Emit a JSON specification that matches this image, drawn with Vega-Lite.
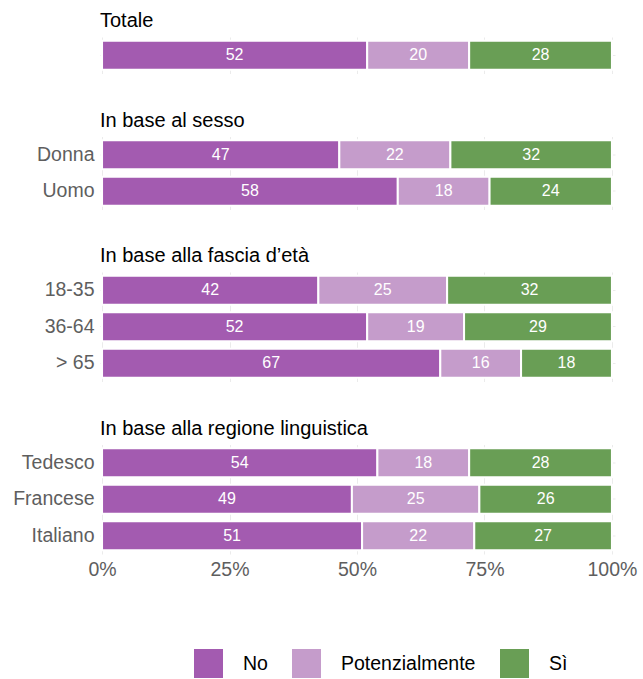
{
  "$schema": "https://vega.github.io/schema/vega-lite/v6.json",
  "padding": {"left": 12, "top": 11, "right": 5, "bottom": 5},
  "config": {
    "font": "Liberation Sans",
    "view": {"stroke": null},
    "title": {"fontSize": 20, "fontWeight": "normal", "anchor": "start", "frame": "group", "color": "#000000", "offset": 6, "font": "Liberation Sans"},
    "axis": {"labelFont": "Liberation Sans", "labelFontSize": 19.5, "labelColor": "#5e5e5e", "ticks": false, "domain": false, "gridColor": "#ebebeb", "title": null, "labelPadding": 6},
    "concat": {"spacing": 36.5},
    "legend": {"symbolType": "square", "symbolSize": 841, "labelFontSize": 19.5, "labelColor": "#000000", "labelFont": "Liberation Sans", "labelOffset": 20, "columnPadding": 24, "symbolStrokeWidth": 0}
  },
  "datasets": {
    "d": [
      {"g": "Totale", "cat": "Totale", "resp": "No", "v": 52},
      {"g": "Totale", "cat": "Totale", "resp": "Potenzialmente", "v": 20},
      {"g": "Totale", "cat": "Totale", "resp": "Sì", "v": 28},
      {"g": "Sesso", "cat": "Donna", "resp": "No", "v": 47},
      {"g": "Sesso", "cat": "Donna", "resp": "Potenzialmente", "v": 22},
      {"g": "Sesso", "cat": "Donna", "resp": "Sì", "v": 32},
      {"g": "Sesso", "cat": "Uomo", "resp": "No", "v": 58},
      {"g": "Sesso", "cat": "Uomo", "resp": "Potenzialmente", "v": 18},
      {"g": "Sesso", "cat": "Uomo", "resp": "Sì", "v": 24},
      {"g": "Eta", "cat": "18-35", "resp": "No", "v": 42},
      {"g": "Eta", "cat": "18-35", "resp": "Potenzialmente", "v": 25},
      {"g": "Eta", "cat": "18-35", "resp": "Sì", "v": 32},
      {"g": "Eta", "cat": "36-64", "resp": "No", "v": 52},
      {"g": "Eta", "cat": "36-64", "resp": "Potenzialmente", "v": 19},
      {"g": "Eta", "cat": "36-64", "resp": "Sì", "v": 29},
      {"g": "Eta", "cat": "> 65", "resp": "No", "v": 67},
      {"g": "Eta", "cat": "> 65", "resp": "Potenzialmente", "v": 16},
      {"g": "Eta", "cat": "> 65", "resp": "Sì", "v": 18},
      {"g": "Regione", "cat": "Tedesco", "resp": "No", "v": 54},
      {"g": "Regione", "cat": "Tedesco", "resp": "Potenzialmente", "v": 18},
      {"g": "Regione", "cat": "Tedesco", "resp": "Sì", "v": 28},
      {"g": "Regione", "cat": "Francese", "resp": "No", "v": 49},
      {"g": "Regione", "cat": "Francese", "resp": "Potenzialmente", "v": 25},
      {"g": "Regione", "cat": "Francese", "resp": "Sì", "v": 26},
      {"g": "Regione", "cat": "Italiano", "resp": "No", "v": 51},
      {"g": "Regione", "cat": "Italiano", "resp": "Potenzialmente", "v": 22},
      {"g": "Regione", "cat": "Italiano", "resp": "Sì", "v": 27}
    ]
  },
  "vconcat": [
    {
      "title": "Totale",
      "width": 515, "height": 36.5,
      "data": {"name": "d"},
      "transform": [
        {"filter": {"field": "g", "equal": "Totale"}},
        {"stack": "v", "groupby": ["cat"], "offset": "normalize", "sort": [{"field": "resp"}], "as": ["x0", "x1"]}
      ],
      "encoding": {
        "y": {"field": "cat", "type": "nominal", "sort": ["Totale"], "scale": {"paddingInner": 0.205, "paddingOuter": 0.1025}, "axis": {"labels": false, "grid": true}}
      },
      "layer": [
        {"mark": {"type": "bar", "stroke": "white", "strokeWidth": 2},
         "encoding": {
           "x": {"field": "x0", "type": "quantitative", "scale": {"domain": [-0.004, 1.006], "nice": false, "zero": false}, "axis": {"labels": false, "grid": true, "values": [0, 0.25, 0.5, 0.75, 1]}},
           "x2": {"field": "x1"},
           "color": {"field": "resp", "type": "nominal", "scale": {"domain": ["No", "Potenzialmente", "Sì"], "range": ["#a35bb0", "#c59ccb", "#699e55"]}, "legend": {"title": null, "orient": "none", "legendX": 94, "legendY": 612, "direction": "horizontal"}}
         }},
        {"transform": [{"fold": ["x0", "x1"], "as": ["k", "xv"]}],
         "mark": {"type": "text", "color": "white", "fontSize": 16, "font": "Liberation Sans"},
         "encoding": {
           "x": {"aggregate": "mean", "field": "xv", "type": "quantitative"},
           "detail": {"field": "resp", "type": "nominal"},
           "text": {"field": "v", "type": "quantitative"}
         }}
      ]
    },
    {
      "title": "In base al sesso",
      "width": 515, "height": 73,
      "data": {"name": "d"},
      "transform": [
        {"filter": {"field": "g", "equal": "Sesso"}},
        {"stack": "v", "groupby": ["cat"], "offset": "normalize", "sort": [{"field": "resp"}], "as": ["x0", "x1"]}
      ],
      "encoding": {
        "y": {"field": "cat", "type": "nominal", "sort": ["Donna", "Uomo"], "scale": {"paddingInner": 0.205, "paddingOuter": 0.1025}, "axis": {"grid": true}}
      },
      "layer": [
        {"mark": {"type": "bar", "stroke": "white", "strokeWidth": 2},
         "encoding": {
           "x": {"field": "x0", "type": "quantitative", "scale": {"domain": [-0.004, 1.006], "nice": false, "zero": false}, "axis": {"labels": false, "grid": true, "values": [0, 0.25, 0.5, 0.75, 1]}},
           "x2": {"field": "x1"},
           "color": {"field": "resp", "type": "nominal", "scale": {"domain": ["No", "Potenzialmente", "Sì"], "range": ["#a35bb0", "#c59ccb", "#699e55"]}, "legend": {"title": null, "orient": "none", "legendX": 94, "legendY": 612, "direction": "horizontal"}}
         }},
        {"transform": [{"fold": ["x0", "x1"], "as": ["k", "xv"]}],
         "mark": {"type": "text", "color": "white", "fontSize": 16, "font": "Liberation Sans"},
         "encoding": {
           "x": {"aggregate": "mean", "field": "xv", "type": "quantitative"},
           "detail": {"field": "resp", "type": "nominal"},
           "text": {"field": "v", "type": "quantitative"}
         }}
      ]
    },
    {
      "title": "In base alla fascia d’età",
      "width": 515, "height": 109.5,
      "data": {"name": "d"},
      "transform": [
        {"filter": {"field": "g", "equal": "Eta"}},
        {"stack": "v", "groupby": ["cat"], "offset": "normalize", "sort": [{"field": "resp"}], "as": ["x0", "x1"]}
      ],
      "encoding": {
        "y": {"field": "cat", "type": "nominal", "sort": ["18-35", "36-64", "> 65"], "scale": {"paddingInner": 0.205, "paddingOuter": 0.1025}, "axis": {"grid": true}}
      },
      "layer": [
        {"mark": {"type": "bar", "stroke": "white", "strokeWidth": 2},
         "encoding": {
           "x": {"field": "x0", "type": "quantitative", "scale": {"domain": [-0.004, 1.006], "nice": false, "zero": false}, "axis": {"labels": false, "grid": true, "values": [0, 0.25, 0.5, 0.75, 1]}},
           "x2": {"field": "x1"},
           "color": {"field": "resp", "type": "nominal", "scale": {"domain": ["No", "Potenzialmente", "Sì"], "range": ["#a35bb0", "#c59ccb", "#699e55"]}, "legend": {"title": null, "orient": "none", "legendX": 94, "legendY": 612, "direction": "horizontal"}}
         }},
        {"transform": [{"fold": ["x0", "x1"], "as": ["k", "xv"]}],
         "mark": {"type": "text", "color": "white", "fontSize": 16, "font": "Liberation Sans"},
         "encoding": {
           "x": {"aggregate": "mean", "field": "xv", "type": "quantitative"},
           "detail": {"field": "resp", "type": "nominal"},
           "text": {"field": "v", "type": "quantitative"}
         }}
      ]
    },
    {
      "title": "In base alla regione linguistica",
      "width": 515, "height": 109.5,
      "data": {"name": "d"},
      "transform": [
        {"filter": {"field": "g", "equal": "Regione"}},
        {"stack": "v", "groupby": ["cat"], "offset": "normalize", "sort": [{"field": "resp"}], "as": ["x0", "x1"]}
      ],
      "encoding": {
        "y": {"field": "cat", "type": "nominal", "sort": ["Tedesco", "Francese", "Italiano"], "scale": {"paddingInner": 0.205, "paddingOuter": 0.1025}, "axis": {"grid": true}}
      },
      "layer": [
        {"mark": {"type": "bar", "stroke": "white", "strokeWidth": 2},
         "encoding": {
           "x": {"field": "x0", "type": "quantitative", "scale": {"domain": [-0.004, 1.006], "nice": false, "zero": false}, "axis": {"grid": true, "values": [0, 0.25, 0.5, 0.75, 1], "format": ".0%"}},
           "x2": {"field": "x1"},
           "color": {"field": "resp", "type": "nominal", "scale": {"domain": ["No", "Potenzialmente", "Sì"], "range": ["#a35bb0", "#c59ccb", "#699e55"]}, "legend": {"title": null, "orient": "none", "legendX": 94, "legendY": 612, "direction": "horizontal"}}
         }},
        {"transform": [{"fold": ["x0", "x1"], "as": ["k", "xv"]}],
         "mark": {"type": "text", "color": "white", "fontSize": 16, "font": "Liberation Sans"},
         "encoding": {
           "x": {"aggregate": "mean", "field": "xv", "type": "quantitative"},
           "detail": {"field": "resp", "type": "nominal"},
           "text": {"field": "v", "type": "quantitative"}
         }}
      ]
    }
  ]
}
